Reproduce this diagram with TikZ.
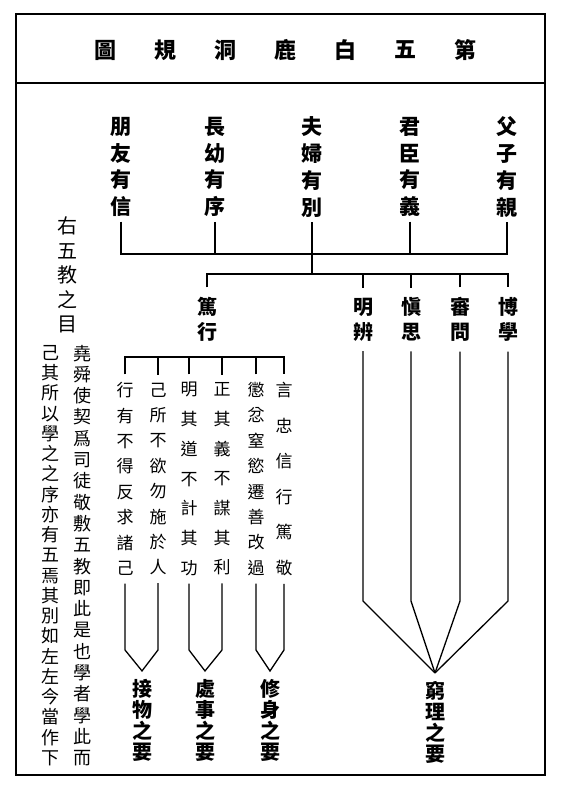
\documentclass[tikz,border=0pt]{standalone}
\usepackage{fontspec}
\newfontfamily\cjk{Noto Sans CJK TC}
\tikzset{link/.style = {line width=1.3pt},
         ttl/.style = {inner sep=0pt, font=\cjk\bfseries\fontsize{22}{22}\selectfont},
         relbox/.style = {align=center, inner sep=0pt, outer sep=5pt, font=\cjk\bfseries\fontsize{21}{26.7}\selectfont},
         waybox/.style = {align=center, inner sep=0pt, outer sep=10pt, font=\cjk\bfseries\fontsize{20}{25}\selectfont},
         rulecol/.style = {align=center, inner sep=0pt, outer sep=8pt, font=\cjk\fontsize{17}{#1}\selectfont},
         goalcol/.style = {align=center, inner sep=0pt, outer sep=8pt, font=\cjk\bfseries\fontsize{20}{21}\selectfont},
         notecol/.style = {align=center, inner sep=0pt, font=\cjk\fontsize{18}{#1}\selectfont}}

\begin{document}
\begin{tikzpicture}[x=1pt,y=-1pt]
\useasboundingbox (0,0) rectangle (567,805);
\draw [line width=1.6pt] (16,14) rectangle (545,775);
\draw [line width=1.6pt] (16,83) -- (545,83);
\foreach \c [count=\i] in {圖,規,洞,鹿,白,五,第}
  \node [ttl] (t\i) at (45+60*\i,50) {\c};

% five relations
\node [relbox] (r1) at (121,167) {朋\\友\\有\\信};
\node [relbox] (r2) at (215,167) {長\\幼\\有\\序};
\node [relbox] (r3) at (312,167) {夫\\婦\\有\\別};
\node [relbox] (r4) at (410,167) {君\\臣\\有\\義};
\node [relbox] (r5) at (507,167) {父\\子\\有\\親};
\coordinate (bar1) at (0,254);
\coordinate (bar2) at (0,274);
\coordinate (bar3) at (0,357);
\draw [link] (r1.south) -- (r1.south |- bar1) -- (r5.south |- bar1) -- (r5.south);
\foreach \n in {r2,r4}
  \draw [link] (\n.south) -- (\n.south |- bar1);
\draw [link] (r3.south) -- (r3.south |- bar2);

% ways of learning
\node [waybox] (dx) at (207,319.5) {篤\\行};
\node [waybox] (m1) at (363,319.5) {明\\辨};
\node [waybox] (m2) at (411,319.5) {愼\\思};
\node [waybox] (m3) at (460,319.5) {審\\問};
\node [waybox] (m4) at (508,319.5) {博\\學};
\draw [link] (dx.north) -- (dx.north |- bar2) -- (m4.north |- bar2) -- (m4.north);
\foreach \n in {m1,m2,m3}
  \draw [link] (\n.north) -- (\n.north |- bar2);

% rules of conduct
\node [rulecol=25.4] (c1) at (125,479) {行\\有\\不\\得\\反\\求\\諸\\己};
\node [rulecol=25.4] (c2) at (158,479) {己\\所\\不\\欲\\勿\\施\\於\\人};
\node [rulecol=29.7] (c3) at (189,479) {明\\其\\道\\不\\計\\其\\功};
\node [rulecol=29.7] (c4) at (222,479) {正\\其\\義\\不\\謀\\其\\利};
\node [rulecol=25.4] (c5) at (256,479) {懲\\忿\\窒\\慾\\遷\\善\\改\\過};
\node [rulecol=35.6] (c6) at (284,479) {言\\忠\\信\\行\\篤\\敬};
\draw [link] (c1.north) -- (c1.north |- bar3) -- (c6.north |- bar3) -- (c6.north);
\foreach \n in {c2,c3,c4,c5}
  \draw [link] (\n.north) -- (\n.north |- bar3);

% the four essentials
\node [goalcol] (k1) at (142,720) {接\\物\\之\\要};
\node [goalcol] (k2) at (205,720) {處\\事\\之\\要};
\node [goalcol] (k3) at (270,720) {修\\身\\之\\要};
\node [goalcol] (q) at (435,722) {窮\\理\\之\\要};
\coordinate (knee) at (0,650);
\coordinate (knee2) at (0,601);
\draw [link] (c1.south) -- (c1.south |- knee) -- (k1.north) -- (c2.south |- knee) -- (c2.south);
\draw [link] (c3.south) -- (c3.south |- knee) -- (k2.north) -- (c4.south |- knee) -- (c4.south);
\draw [link] (c5.south) -- (c5.south |- knee) -- (k3.north) -- (c6.south |- knee) -- (c6.south);
\foreach \n in {m1,m2,m3,m4}
  \draw [link] (\n.south) -- (\n.south |- knee2) -- (q.north);

% note on the left
\node [notecol=24.5, font=\cjk\fontsize{20}{24.5}\selectfont] (n0) at (67,275) {右\\五\\教\\之\\目};
\node [notecol=21.3] (n1) at (82,555.5) {堯\\舜\\使\\契\\爲\\司\\徒\\敬\\敷\\五\\教\\即\\此\\是\\也\\學\\者\\學\\此\\而};
\node [notecol=20.25] (n2) at (50,555.5) {己\\其\\所\\以\\學\\之\\之\\序\\亦\\有\\五\\焉\\其\\別\\如\\左\\左\\今\\當\\作\\下};
\end{tikzpicture}
\end{document}
